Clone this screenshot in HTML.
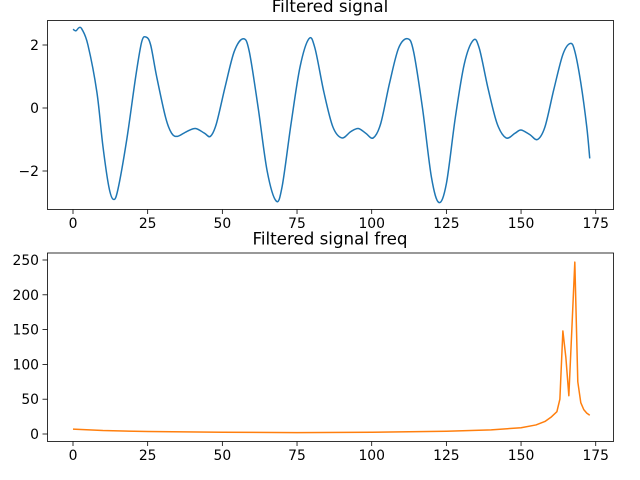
<!DOCTYPE html>
<html><head><meta charset="utf-8"><style>
body{margin:0;background:#fff}
svg{display:block;font-family:"DejaVu Sans","Liberation Sans",sans-serif}
</style></head><body>
<svg id="fig" width="640" height="480" xmlns="http://www.w3.org/2000/svg"></svg>
<script>
const sigX=[0,1,2,3,5,8,10,12,13.5,15,18,21,23,24.5,26,28,31,33,35,38,41,44,46,48,51,54,57,59,62,65,68,70,73,76,79,81,84,87,90,93,95.5,98,100.5,103,106,109,112,114,117,120,122.5,125,128,131,134,136,139,142,145,148,150,153,155.5,158,161,164,166.5,168,170,172,173];
const sigY=[2.5,2.45,2.55,2.5,2.0,0.5,-1.2,-2.5,-2.9,-2.6,-1,1,2.1,2.25,2.0,1,-0.3,-0.8,-0.9,-0.75,-0.65,-0.8,-0.9,-0.5,0.7,1.8,2.2,1.8,0,-2,-2.95,-2.5,-0.5,1.3,2.2,1.9,0.5,-0.6,-0.95,-0.75,-0.65,-0.8,-0.95,-0.5,0.8,1.9,2.2,1.8,0,-2.2,-3.0,-2.4,-0.3,1.4,2.15,1.9,0.6,-0.5,-0.95,-0.8,-0.7,-0.85,-1.0,-0.6,0.6,1.7,2.05,1.8,0.8,-0.6,-1.6];
const frqX=[0,10,25,50,75,100,125,140,150,155,158,160,162,163,164,165,166,167,168,169,170,171,172,173];
const frqY=[7,5,3.5,2.5,2,2.5,4,6,9,13,18,24,32,50,148,110,55,150,247,75,45,35,30,27];
const xTicks=[0,25,50,75,100,125,150,175];
const topYTicks=[-2,0,2];
const botYTicks=[0,50,100,150,200,250];
const NS="http://www.w3.org/2000/svg";
const svg=document.getElementById('fig');
function mk(t,a,p){const e=document.createElementNS(NS,t);for(const k in a)e.setAttribute(k,a[k]);(p||svg).appendChild(e);return e;}
const sx=v=>73+v*2.987;
function smoothPath(pts,smooth){
  let d='M'+pts[0][0].toFixed(2)+','+pts[0][1].toFixed(2);
  for(let i=0;i<pts.length-1;i++){
    const p0=pts[Math.max(0,i-1)],p1=pts[i],p2=pts[i+1],p3=pts[Math.min(pts.length-1,i+2)];
    if(!smooth){d+='L'+p2[0].toFixed(2)+','+p2[1].toFixed(2);continue;}
    const c1=[p1[0]+(p2[0]-p0[0])/6,p1[1]+(p2[1]-p0[1])/6];
    const c2=[p2[0]-(p3[0]-p1[0])/6,p2[1]-(p3[1]-p1[1])/6];
    d+='C'+c1.map(v=>v.toFixed(2)).join(',')+' '+c2.map(v=>v.toFixed(2)).join(',')+' '+p2.map(v=>v.toFixed(2)).join(',');
  }
  return d;
}
function panel(name,top,bot,yfn,yTicks,xs,ys,color,title,smooth){
  const g=mk('g',{});
  
  
  const t=mk('text',{x:330,y:top-8,'text-anchor':'middle','font-size':16.7,fill:'#000'},g);
  t.textContent=title;
  
  
  const pts=xs.map((x,i)=>[sx(x),yfn(ys[i])]);
  const line=mk('path',{d:smoothPath(pts,smooth),fill:'none',stroke:color,'stroke-width':1.5,'stroke-linejoin':'round'},g);
  
  
  const fr=mk('rect',{x:47.5,y:top+0.5,width:566,height:bot-top,fill:'none',stroke:'#000','stroke-width':0.8},g);
  
  
  xTicks.forEach(v=>{
    const x=sx(v);
    mk('line',{x1:x,x2:x,y1:bot+0.5,y2:bot+5,stroke:'#000','stroke-width':0.8},g);
    const l=mk('text',{x:x,y:bot+19,'text-anchor':'middle','font-size':13.9,fill:'#000'},g);
    l.textContent=v;
    
    
  });
  yTicks.forEach(v=>{
    const y=yfn(v);
    mk('line',{x1:42.5,x2:47.5,y1:y,y2:y,stroke:'#000','stroke-width':0.8},g);
    const l=mk('text',{x:39,y:y+5,'text-anchor':'end','font-size':13.9,fill:'#000'},g);
    l.textContent=v<0?'\u2212'+(-v):v;
    
    
  });
}
panel('signal-panel',20,209,v=>108-v*31.5,topYTicks,sigX,sigY,'#1f77b4','Filtered signal',true);
panel('freq-panel',252.5,441,v=>434-v*0.696,botYTicks,frqX,frqY,'#ff7f0e','Filtered signal freq',false);
</script>
</body></html>
